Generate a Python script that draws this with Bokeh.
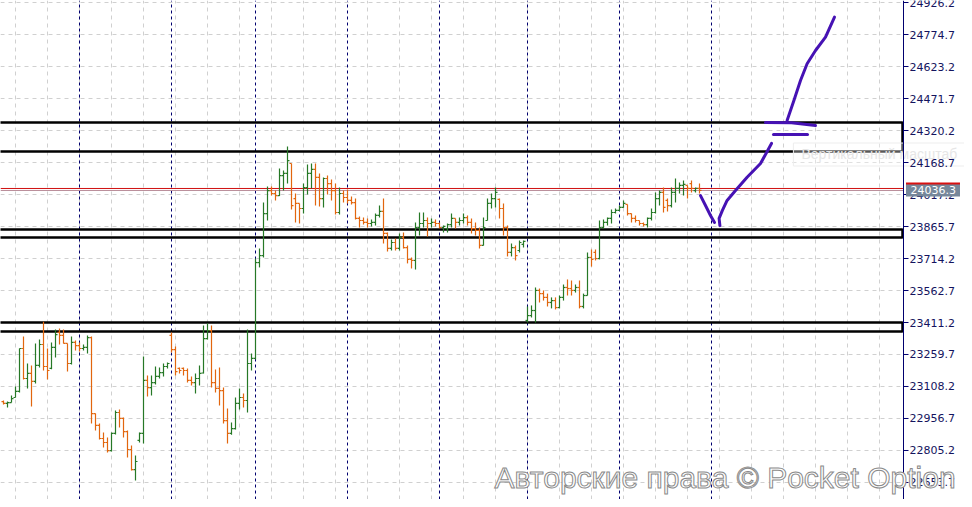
from bokeh.plotting import figure
from bokeh.models import Range1d, ColumnDataSource
from bokeh.core.properties import value
from bokeh.embed import file_html
from bokeh.resources import INLINE

# ---------------- data ----------------
opens = [
    23037, 23028, 23032, 23056, 23085, 23288, 23146, 23170, 23132, 23208,
    23307, 23203, 23194, 23293, 23364, 23350, 23312, 23217, 23317, 23302,
    23288, 23293, 23340, 22980, 22924, 22862, 22843, 22805, 22886, 22985,
    22957, 22895, 22810, 22715, 22853, 22886, 23137, 23103, 23127, 23156,
    23174, 23203, 23350, 23283, 23194, 23194, 23184, 23137, 23127, 23146,
    23172, 23335, 23373, 23127, 23099, 23089, 22947, 22886, 22909, 23028,
    23056, 23042, 23217, 23241, 23695, 23728, 23927, 24036, 24022, 24012,
    24107, 24117, 24164, 23998, 23975, 23951, 24050, 24117, 24136, 24098,
    23998, 24093, 24069, 24036, 23932, 24022, 24003, 23989, 23979, 23904,
    23894, 23885, 23880, 23885, 23918, 23937, 23833, 23762, 23790, 23762,
    23814, 23766, 23710, 23705, 23861, 23880, 23894, 23880, 23885, 23880,
    23861, 23856, 23875, 23904, 23885, 23894, 23908, 23885, 23856, 23847,
    23776, 23894, 23975, 23998, 23994, 23951, 23861, 23743, 23766, 23752,
    23781, 23421, 23444, 23468, 23563, 23548, 23530, 23506, 23515, 23482,
    23530, 23577, 23572, 23563, 23577, 23487, 23539, 23719, 23743, 23714,
    23861, 23885, 23904, 23932, 23942, 23956, 23970, 23927, 23904, 23894,
    23880, 23875, 23904, 23932, 23998, 24027, 23989, 23965, 24027, 24046,
    24060, 24060, 24069, 24036, 24046]
highs = [
    23042, 23037, 23066, 23108, 23288, 23345, 23217, 23208, 23312, 23331,
    23415, 23288, 23317, 23378, 23383, 23378, 23312, 23345, 23326, 23317,
    23307, 23350, 23345, 22980, 22933, 22890, 22867, 22890, 22995, 22999,
    22961, 22900, 22829, 22782, 22890, 23250, 23160, 23160, 23203, 23198,
    23217, 23222, 23364, 23298, 23198, 23198, 23194, 23156, 23170, 23208,
    23397, 23406, 23397, 23189, 23198, 23103, 23004, 22938, 23056, 23099,
    23075, 23378, 23265, 23714, 23762, 23979, 24055, 24055, 24036, 24140,
    24131, 24244, 24164, 24022, 23975, 24069, 24159, 24164, 24164, 24117,
    24098, 24107, 24088, 24069, 24050, 24036, 24041, 24008, 23998, 23913,
    23908, 23904, 23899, 23927, 23965, 23998, 23837, 23804, 23809, 23833,
    23837, 23776, 23719, 23885, 23932, 23932, 23908, 23904, 23899, 23885,
    23870, 23880, 23927, 23904, 23908, 23927, 23918, 23904, 23885, 23861,
    23908, 23998, 24022, 24050, 23998, 23975, 23870, 23785, 23776, 23799,
    23799, 23487, 23492, 23577, 23572, 23563, 23548, 23530, 23530, 23539,
    23591, 23615, 23610, 23591, 23610, 23548, 23743, 23757, 23757, 23894,
    23899, 23908, 23946, 23951, 23965, 23989, 23970, 23927, 23918, 23894,
    23885, 23908, 23951, 24027, 24036, 24050, 23998, 24050, 24093, 24074,
    24084, 24060, 24084, 24050, 24069]
lows = [
    23023, 23009, 23032, 23056, 23080, 23141, 23099, 23014, 23122, 23198,
    23184, 23141, 23190, 23246, 23307, 23312, 23179, 23212, 23279, 23274,
    23279, 23264, 22933, 22900, 22857, 22819, 22796, 22800, 22881, 22914,
    22867, 22772, 22710, 22663, 22843, 22838, 23061, 23066, 23118, 23146,
    23156, 23194, 23269, 23160, 23170, 23160, 23127, 23113, 23075, 23113,
    23170, 23331, 23103, 23080, 23018, 22933, 22838, 22880, 22905, 22999,
    23009, 22985, 23184, 23236, 23672, 23719, 23894, 24012, 23989, 24010,
    24036, 24069, 23946, 23885, 23880, 23927, 24017, 24046, 23965, 23960,
    23956, 24017, 23989, 23923, 23923, 23979, 23975, 23970, 23899, 23861,
    23875, 23861, 23866, 23870, 23908, 23785, 23747, 23752, 23752, 23752,
    23762, 23691, 23667, 23662, 23823, 23861, 23818, 23861, 23866, 23856,
    23837, 23837, 23861, 23856, 23870, 23880, 23870, 23833, 23823, 23762,
    23776, 23894, 23951, 23956, 23904, 23823, 23724, 23724, 23705, 23743,
    23766, 23411, 23435, 23411, 23506, 23515, 23487, 23478, 23473, 23478,
    23515, 23539, 23539, 23553, 23478, 23478, 23539, 23676, 23705, 23710,
    23856, 23870, 23880, 23927, 23940, 23955, 23918, 23885, 23885, 23870,
    23866, 23861, 23894, 23927, 23965, 23932, 23937, 23956, 23979, 24022,
    24012, 23998, 24027, 24027, 24022]
closes = [
    23028, 23032, 23051, 23085, 23288, 23146, 23170, 23132, 23208, 23307,
    23203, 23184, 23293, 23354, 23350, 23312, 23217, 23317, 23302, 23288,
    23293, 23340, 22980, 22924, 22862, 22843, 22805, 22886, 22985, 22957,
    22895, 22810, 22715, 22753, 22886, 23137, 23103, 23127, 23156, 23174,
    23203, 23217, 23283, 23179, 23184, 23184, 23137, 23127, 23146, 23170,
    23335, 23373, 23127, 23099, 23089, 22947, 22886, 22909, 23028, 23056,
    23042, 23217, 23241, 23695, 23728, 23927, 24036, 24022, 24012, 24107,
    24117, 24178, 23965, 23975, 23951, 24050, 24117, 24136, 24098, 23998,
    24093, 24069, 24036, 23932, 24022, 24003, 23989, 23979, 23904, 23894,
    23885, 23880, 23885, 23918, 23937, 23833, 23762, 23790, 23762, 23814,
    23766, 23710, 23705, 23861, 23880, 23894, 23880, 23885, 23880, 23861,
    23866, 23875, 23904, 23885, 23894, 23908, 23885, 23856, 23847, 23776,
    23861, 23975, 23998, 24027, 23951, 23861, 23743, 23766, 23728, 23790,
    23795, 23444, 23468, 23563, 23548, 23530, 23506, 23515, 23482, 23530,
    23577, 23572, 23563, 23577, 23487, 23539, 23719, 23710, 23714, 23861,
    23885, 23904, 23932, 23942, 23956, 23975, 23927, 23904, 23894, 23880,
    23875, 23904, 23932, 23998, 24027, 23956, 23965, 24027, 24046, 24060,
    24065, 24046, 24046, 24046, 24036.3]
bar_index = list(range(len(closes)))

y_ticks = [24926.2, 24774.7, 24623.2, 24471.7, 24320.2, 24168.7, 24017.2, 23865.7,
           23714.2, 23562.7, 23411.2, 23259.7, 23108.2, 22956.7, 22805.2, 22653.7]
grid_x = [3, 11, 19, 27, 35, 43, 51, 59, 67, 75, 83, 91, 99, 107, 115, 123, 131, 139,
          147, 155, 163, 171, 179, 187, 195, 203, 211, 219]
separators = [19, 42, 63, 86, 109, 131, 154, 177]

zone_top = [24358, 23852, 23411]
zone_bottom = [24221, 23814, 23369]

bid = 24036.3
ask = 24045.7

# hand-drawn forecast strokes (bar index, price)
s1_x = [174.25, 175.5, 176.75, 177.75]
s1_y = [24012, 23965, 23918, 23885]
s2_x = [179.1, 178.9, 179.7, 180.9, 183.0, 185.9, 189.25, 192.0]
s2_y = [23870, 23904, 23941, 23989, 24036, 24099, 24164, 24259]
s3_x = [192.5, 201.0]
s3_y = [24301, 24301]
s4_x = [190.5, 197.0, 203.0]
s4_y = [24358, 24357, 24344]
s5_x = [195.9, 197.6, 199.25, 200.9, 203.0, 205.5, 207.75]
s5_y = [24368, 24462, 24557, 24636, 24699, 24762, 24857]

watermark = "Авторские права © Pocket Option"
tooltip_text = "Вертикальный масштаб"

# ---------------- layout constants ----------------
GREEN = "#267826"
ORANGE = "#e2660e"
NAVY = "#00006e"
GRID = "#d0d0d0"
X0, X1 = -0.75, 240.25            # 4 px per bar
Y0, Y1 = 22573.2, 24935.7
AXIS_X = 225.0                    # price-scale line
PX = 0.25                         # one pixel in bar units

p = figure(frame_width=964, frame_height=499,
           x_range=Range1d(X0, X1), y_range=Range1d(Y0, Y1),
           x_axis_location=None, y_axis_location=None,
           toolbar_location=None, output_backend="svg",
           min_border_left=0, min_border_top=0, min_border_bottom=0, min_border_right=0)
p.outline_line_color = None
p.background_fill_color = "white"
p.border_fill_color = "white"
p.xgrid.visible = False
p.ygrid.visible = False

# dashed grid
p.segment(x0=X0, x1=AXIS_X, y0=y_ticks, y1=y_ticks, line_color=GRID, line_dash="4 4", line_width=1)
p.segment(x0=grid_x, x1=grid_x, y0=Y0, y1=Y1, line_color=GRID, line_dash="4 4", line_width=1)

# period separators
p.segment(x0=separators, x1=separators, y0=Y0, y1=Y1, line_color=NAVY, line_dash="3 3", line_width=1)

# support / resistance zones
p.quad(left=-5, right=AXIS_X - 0.25, top=zone_top, bottom=zone_bottom,
       fill_color=None, line_color="black", line_width=2.5)

# price lines
p.segment(x0=X0, x1=AXIS_X, y0=[ask], y1=[ask], line_color="#d01010", line_width=1)
p.segment(x0=X0, x1=AXIS_X, y0=[bid], y1=[bid], line_color="#b88c98", line_width=1)

# OHLC bars
colors = [GREEN if c >= o else ORANGE for o, c in zip(opens, closes)]
src = ColumnDataSource(dict(x=bar_index, xl=[i - 0.5 for i in bar_index],
                            xr=[i + 0.5 for i in bar_index],
                            o=opens, h=highs, l=lows, c=closes, color=colors))
p.segment(x0="x", y0="l", x1="x", y1="h", line_color="color", line_width=1.2, source=src)
p.segment(x0="xl", y0="o", x1="x", y1="o", line_color="color", line_width=1.2, source=src)
p.segment(x0="x", y0="c", x1="xr", y1="c", line_color="color", line_width=1.2, source=src)

# hand drawn strokes
PURPLE = "#4612b4"
for xs, ys in [(s1_x, s1_y), (s2_x, s2_y), (s3_x, s3_y), (s4_x, s4_y), (s5_x, s5_y)]:
    p.line(xs, ys, line_color=PURPLE, line_width=3, line_cap="round", line_join="round")

# faint tooltip
p.rect(x=[219.6], y=[24206.6], width=177, height=23, width_units="screen", height_units="screen",
       fill_color="white", fill_alpha=0.35, line_color="#ededed", line_width=1)
p.text(x=[199.5], y=[24206.6], text=[tooltip_text], text_font=value("Liberation Sans"),
       text_font_size="14px", text_color="#e6e6e6", text_baseline="middle", text_align="left")

# price scale (right)
p.segment(x0=[AXIS_X], x1=[AXIS_X], y0=[Y0], y1=[Y1], line_color=NAVY, line_width=1)
p.segment(x0=AXIS_X, x1=AXIS_X + 5 * PX, y0=y_ticks, y1=y_ticks, line_color=NAVY, line_width=1)
p.text(x=AXIS_X + 6 * PX, y=y_ticks, text=[f"{t:.1f}" for t in y_ticks],
       text_font=value("DejaVu Sans"), text_font_size="11px", text_color="#14145e",
       text_baseline="middle", text_align="left")

# axis price boxes
p.rect(x=[232.375], y=[ask], width=54, height=12, width_units="screen", height_units="screen",
       fill_color="#d81010", line_color=None)
p.rect(x=[232.375], y=[bid], width=54, height=12, width_units="screen", height_units="screen",
       fill_color="#76879a", line_color=None)
p.text(x=[AXIS_X + 7 * PX], y=[bid], text=[f"{bid:.1f}"], text_font=value("DejaVu Sans"),
       text_font_size="11px", text_color="white", text_baseline="middle", text_align="left")

# watermark (lifted a little so it fits in the visible page)
p.text(x=[122.75], y=[22677], text=[watermark], text_font=value("Liberation Sans"),
       text_font_size="30px", text_color="white", text_outline_color="#8a8a8a",
       text_baseline="middle", text_align="left")

open("out.html", "w").write(file_html(p, INLINE))
